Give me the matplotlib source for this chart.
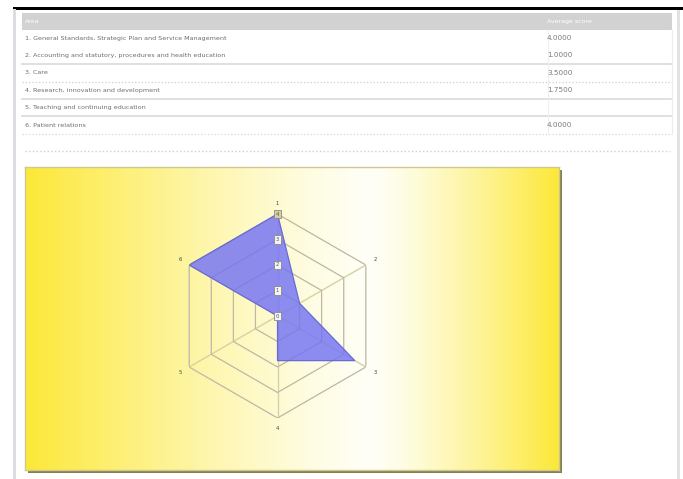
import numpy as np
import matplotlib
matplotlib.use("Agg")
import matplotlib.pyplot as plt
from matplotlib.patches import Rectangle

# table contents
area_labels = [
    "1. General Standards, Strategic Plan and Service Management",
    "2. Accounting and statutory, procedures and health education",
    "3. Care",
    "4. Research, innovation and development",
    "5. Teaching and continuing education",
    "6. Patient relations",
]
scores = [4.0, 1.0, 3.5, 1.75, None, 4.0]
header_labels = ["Area", "Average score"]

# radar axes
axis_labels = ["1", "2", "3", "4", "5", "6"]
ring_levels = [1, 2, 3, 4]
tick_levels = [0, 1, 2, 3, 4]

W, H = 683, 479
fig = plt.figure(figsize=(W / 100, H / 100), dpi=100)
fig.patch.set_facecolor("white")

# page overlay in pixel coords
pg = fig.add_axes([0, 0, 1, 1])
pg.set_xlim(0, W)
pg.set_ylim(H, 0)
pg.axis("off")

pg.add_patch(Rectangle((13, 6.5), W - 13, 3, color="black", lw=0))
pg.add_patch(Rectangle((13, 9), 3, H - 9, color="#dcdce2", lw=0))
pg.add_patch(Rectangle((677, 10), 3, H - 10, color="#e2e2e6", lw=0))

# header
pg.add_patch(Rectangle((22, 13), 650, 17, color="#d2d2d2", lw=0))
pg.text(25, 21.5, header_labels[0], fontsize=4.5, color="white", va="center")
pg.text(547, 21.5, header_labels[1], fontsize=4.5, color="white", va="center")

# rows (line style of the separator drawn above each row)
sep_style = [None, None, "-", ":", "-", "-"]
row_step = 17.4
for i, (lab, sc) in enumerate(zip(area_labels, scores)):
    y = 38 + i * row_step
    pg.text(25, y, lab, fontsize=4.6, color="#6e6e6e", va="center")
    if sc is not None:
        pg.text(547, y, f"{sc:.4f}", fontsize=5.2, color="#7a7a7a", va="center")
    ls = sep_style[i]
    if ls is not None:
        yy = y - 8.7
        pg.plot([22, 672], [yy, yy], ls=ls, color="#e0e0e0" if ls == "-" else "#cfcfcf",
                lw=1.4 if ls == "-" else 0.9)
pg.plot([22, 672], [38 + 5 * row_step + 8.7] * 2, ls=":", color="#d6d6d6", lw=0.9)
pg.plot([548, 548], [30, 133], color="#efefef", lw=0.8)
pg.plot([672, 672], [30, 133], color="#ececec", lw=0.8)

# dotted divider above the chart
pg.plot([25, 670], [151, 151], ls=":", color="#d0d0d0", lw=1)

# chart panel with shadow
px0, py0, px1, py1 = 25, 167, 559, 470
pg.add_patch(Rectangle((px0 + 3, py0 + 3), px1 - px0, py1 - py0, color="#858050", lw=0))
panel = fig.add_axes([px0 / W, 1 - py1 / H, (px1 - px0) / W, (py1 - py0) / H])
xs = np.linspace(px0, px1, 600)
x_white = 372
d = np.where(xs < x_white, (x_white - xs) / (x_white - px0), (xs - x_white) / (px1 - x_white))
s = np.clip(d, 0, 1) ** 1.25
white = np.array([1.0, 1.0, 0.97])
yellow = np.array([0.99, 0.91, 0.22])
grad = white[None, :] * (1 - s[:, None]) + yellow[None, :] * s[:, None]
panel.imshow(grad[None, :, :], aspect="auto", extent=[0, 1, 0, 1])
panel.set_xlim(0, 1)
panel.set_ylim(0, 1)
panel.set_xticks([])
panel.set_yticks([])
for sp in panel.spines.values():
    sp.set_color("#cfc890")
    sp.set_linewidth(1)

# radar
cx, cy, R = 277.5, 316, 102
ax = fig.add_axes([(cx - R) / W, 1 - (cy + R) / H, 2 * R / W, 2 * R / H], projection="polar")
ax.set_theta_offset(np.pi / 2)
ax.set_theta_direction(-1)
ax.set_ylim(0, max(ring_levels))
ax.patch.set_alpha(0)
ax.spines["polar"].set_visible(False)
ax.grid(False)
ax.set_xticks([])
ax.set_yticks([])

n = len(axis_labels)
theta = np.arange(n) * 2 * np.pi / n
theta_c = np.append(theta, theta[0])
grid_col = "#d8d1a0"
for r in ring_levels:
    ax.plot(theta_c, [r] * (n + 1), color=grid_col, lw=1.0, zorder=1)
for th in theta:
    ax.plot([th, th], [0, max(ring_levels)], color=grid_col, lw=1.0, zorder=1)

vals = [0 if v is None else v for v in scores]
vals_c = np.append(vals, vals[0])
ax.fill(theta_c, vals_c, color="#7c7cf2", alpha=0.88, zorder=2, lw=0)
ax.plot(theta_c, vals_c, color="#6a6ad6", lw=0.9, zorder=3)
for r in ring_levels:
    ax.plot(theta_c, [r] * (n + 1), color="#6d6dd8", lw=0.5, alpha=0.35, zorder=3)

for th, lab in zip(theta, axis_labels):
    ax.text(th, 4.42, lab, fontsize=3.8, color="#4a4630", ha="center", va="center")

for r in tick_levels:
    fc = "#d6cfa0" if r == max(tick_levels) else "#f4f4f8"
    ax.text(0, r, str(r), fontsize=3.8, color="#555566", ha="center", va="center", zorder=5,
            bbox=dict(boxstyle="square,pad=0.3", fc=fc, ec="#8a8a80", lw=0.6))

fig.savefig("out.png", dpi=100)
